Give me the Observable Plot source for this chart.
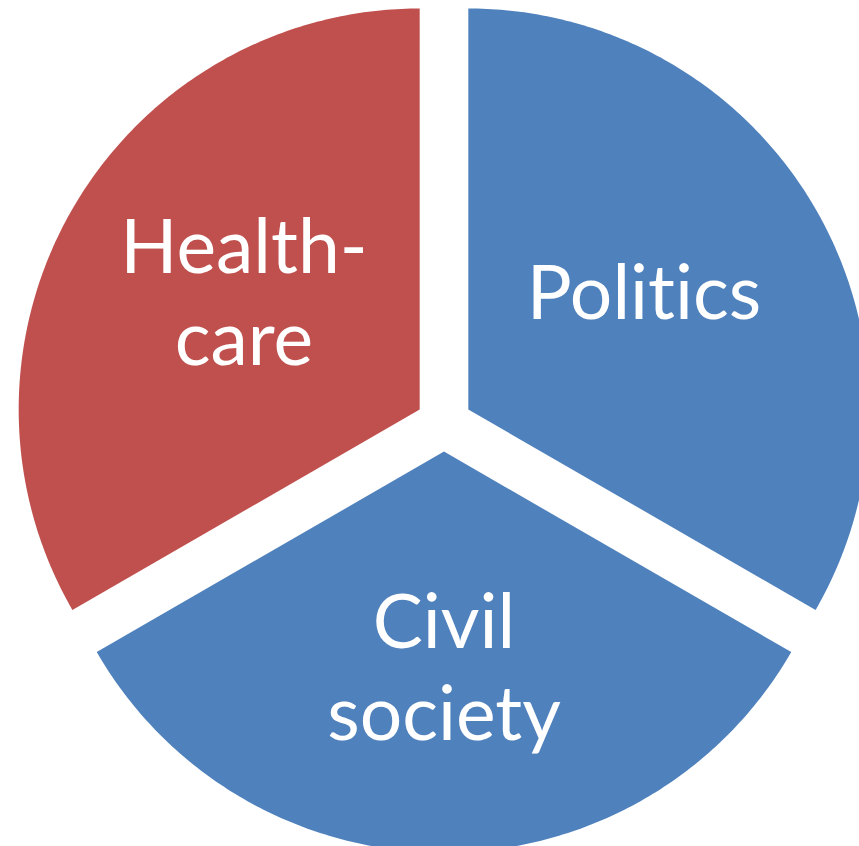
<!DOCTYPE html>
<html>
<head>
<meta charset="utf-8">
<script src="https://cdn.jsdelivr.net/npm/d3@7"></script>
<script src="https://cdn.jsdelivr.net/npm/@observablehq/plot@0.6"></script>
<style>
  html, body { margin: 0; padding: 0; background: #ffffff; }
  #chart svg { display: block; }
  #chart svg text { font-variant-ligatures: none; font-feature-settings: "liga" 0, "clig" 0; }
</style>
</head>
<body>
<div id="chart"></div>
<script>
// ---- data ----
const categories = ["Politics", "Civil society", "Healthcare"];
const values = [1, 1, 1];              // three equal thirds
const labels = ["Politics", "Civil\nsociety", "Health-\ncare"];
const sliceColors = ["#4F81BD", "#4F81BD", "#C0504D"];

// ---- layout constants ----
const W = 859, H = 846;
const R = 401;              // pie radius in px
const CX = 443.5, CY = 423; // pie centre in px
const EXPLODE = 0.07;       // slice offset, fraction of radius
const LABEL_KX = 0.506;     // label placement inside each slice (fractions of radius)
const LABEL_KY = 0.554;
const LABEL_DY = 0.023;

// Build slice polygons in unit space (radius 1, y up), clockwise from 12 o'clock
const total = d3.sum(values);
let acc = 0;
const polys = [];
const labelRows = [];
categories.forEach((name, i) => {
  const a0 = acc / total * 2 * Math.PI;
  acc += values[i];
  const a1 = acc / total * 2 * Math.PI;
  const mid = (a0 + a1) / 2;
  const ox = EXPLODE * Math.sin(mid), oy = EXPLODE * Math.cos(mid);
  polys.push({name, x: ox, y: oy});
  const steps = 180;
  for (let k = 0; k <= steps; k++) {
    const a = a0 + (a1 - a0) * k / steps;
    polys.push({name, x: ox + Math.sin(a), y: oy + Math.cos(a)});
  }
  labelRows.push({
    name,
    label: labels[i],
    x: ox + LABEL_KX * Math.sin(mid),
    y: oy + LABEL_KY * Math.cos(mid) + LABEL_DY
  });
});

const chart = Plot.plot({
  width: W,
  height: H,
  margin: 0,
  style: {background: "#ffffff", overflow: "hidden"},
  x: {domain: [-CX / R, (W - CX) / R], range: [0, W], axis: null},
  y: {domain: [-(H - CY) / R, CY / R], range: [H, 0], axis: null},
  color: {domain: categories, range: sliceColors},
  marks: [
    Plot.line(polys, {x: "x", y: "y", z: "name", fill: "name", stroke: null, curve: "linear"}),
    Plot.text(labelRows, {
      x: "x", y: "y", text: "label",
      fill: "white",
      fontSize: 75,
      fontFamily: "Lato, 'Open Sans', sans-serif",
      lineHeight: 1.23,
      textAnchor: "middle",
      lineAnchor: "middle"
    })
  ]
});
document.getElementById("chart").appendChild(chart);
</script>
</body>
</html>
